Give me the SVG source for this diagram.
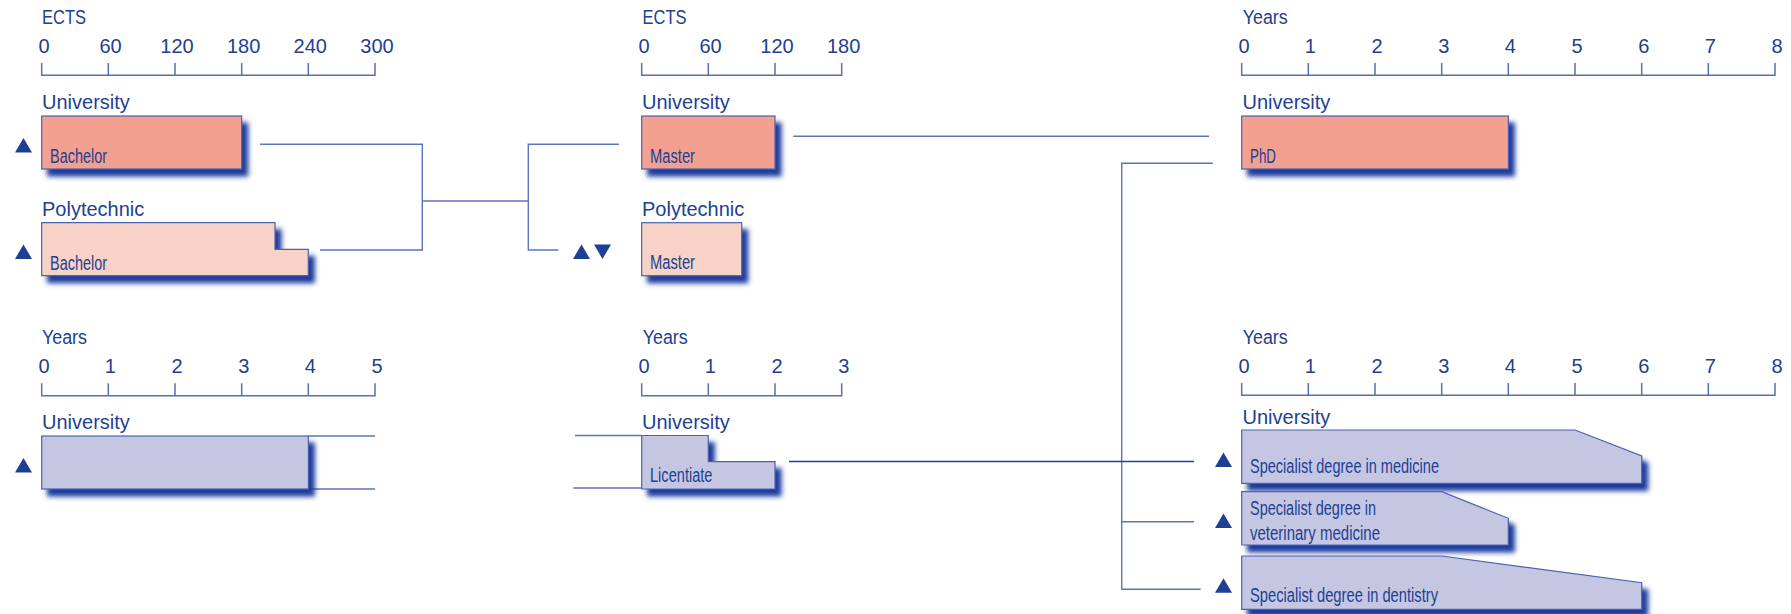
<svg xmlns="http://www.w3.org/2000/svg" width="1791" height="614" viewBox="0 0 1791 614">
<defs>
<style>
text{font-family:"Liberation Sans",Arial,sans-serif;fill:#213f93}
.h{font-size:20px}
.t{font-size:20px;text-anchor:middle}
.l{font-size:20px}
.ax{fill:none;stroke:#5670b5;stroke-width:1.5}
.box{stroke:#4a62b0;stroke-width:1.2;filter:url(#sh)}
.uni{fill:#f4a090}
.poly{fill:#f9d2c6}
.lic{fill:#c5c7e2}
.con{fill:none;stroke:#5a74bd;stroke-width:1.4}
.dark{fill:none;stroke:#22408f;stroke-width:1.4}
.tri{fill:#1f3f94}
</style>
<filter id="sh" x="-10%" y="-20%" width="125%" height="170%">
<feGaussianBlur in="SourceAlpha" stdDeviation="2.6"/>
<feOffset dx="6" dy="7" result="b"/>
<feFlood flood-color="#1d3c9c"/>
<feComposite in2="b" operator="in"/>
<feMerge><feMergeNode/><feMergeNode in="SourceGraphic"/></feMerge>
</filter>
<polygon id="up" points="0,14.5 8.5,0 17,14.5"/>
<polygon id="down" points="0,0 17,0 8.5,14.5"/>
</defs>
<rect width="1791" height="614" fill="#fff"/>

<!-- Axes -->
<g id="axis-ects-left">
<text class="h" x="42" y="24" textLength="44" lengthAdjust="spacingAndGlyphs">ECTS</text>
<path class="ax" d="M41.7,63V75.3H375V63M108.3,63V75.3M175,63V75.3M241.7,63V75.3M308.3,63V75.3"/>
<text class="t" x="44" y="53">0</text><text class="t" x="110.5" y="53">60</text><text class="t" x="177" y="53">120</text><text class="t" x="243.7" y="53">180</text><text class="t" x="310.3" y="53">240</text><text class="t" x="377" y="53">300</text>
</g>
<g id="axis-ects-mid">
<text class="h" x="642.5" y="24" textLength="44" lengthAdjust="spacingAndGlyphs">ECTS</text>
<path class="ax" d="M641.7,63V75.3H841.7V63M708.3,63V75.3M775,63V75.3"/>
<text class="t" x="644" y="53">0</text><text class="t" x="710.5" y="53">60</text><text class="t" x="777" y="53">120</text><text class="t" x="843.7" y="53">180</text>
</g>
<g id="axis-years-topright">
<text class="h" x="1242.7" y="24" textLength="45" lengthAdjust="spacingAndGlyphs">Years</text>
<path class="ax" d="M1241.7,63V75.3H1775V63M1308.3,63V75.3M1375,63V75.3M1441.7,63V75.3M1508.3,63V75.3M1575,63V75.3M1641.7,63V75.3M1708.3,63V75.3"/>
<text class="t" x="1244" y="53">0</text><text class="t" x="1310.3" y="53">1</text><text class="t" x="1377" y="53">2</text><text class="t" x="1443.7" y="53">3</text><text class="t" x="1510.3" y="53">4</text><text class="t" x="1577" y="53">5</text><text class="t" x="1643.7" y="53">6</text><text class="t" x="1710.3" y="53">7</text><text class="t" x="1777" y="53">8</text>
</g>
<g id="axis-years-botleft">
<text class="h" x="42" y="344" textLength="45" lengthAdjust="spacingAndGlyphs">Years</text>
<path class="ax" d="M41.7,383.3V395.7H375V383.3M108.3,383.3V395.7M175,383.3V395.7M241.7,383.3V395.7M308.3,383.3V395.7"/>
<text class="t" x="44" y="373.3">0</text><text class="t" x="110.3" y="373.3">1</text><text class="t" x="177" y="373.3">2</text><text class="t" x="243.7" y="373.3">3</text><text class="t" x="310.3" y="373.3">4</text><text class="t" x="377" y="373.3">5</text>
</g>
<g id="axis-years-botmid">
<text class="h" x="642.7" y="344" textLength="45" lengthAdjust="spacingAndGlyphs">Years</text>
<path class="ax" d="M641.7,383.3V395.7H841.7V383.3M708.3,383.3V395.7M775,383.3V395.7"/>
<text class="t" x="644" y="373.3">0</text><text class="t" x="710.3" y="373.3">1</text><text class="t" x="777" y="373.3">2</text><text class="t" x="843.7" y="373.3">3</text>
</g>
<g id="axis-years-botright">
<text class="h" x="1242.7" y="344" textLength="45" lengthAdjust="spacingAndGlyphs">Years</text>
<path class="ax" d="M1241.7,383V395.3H1775V383M1308.3,383V395.3M1375,383V395.3M1441.7,383V395.3M1508.3,383V395.3M1575,383V395.3M1641.7,383V395.3M1708.3,383V395.3"/>
<text class="t" x="1244" y="373.3">0</text><text class="t" x="1310.3" y="373.3">1</text><text class="t" x="1377" y="373.3">2</text><text class="t" x="1443.7" y="373.3">3</text><text class="t" x="1510.3" y="373.3">4</text><text class="t" x="1577" y="373.3">5</text><text class="t" x="1643.7" y="373.3">6</text><text class="t" x="1710.3" y="373.3">7</text><text class="t" x="1777" y="373.3">8</text>
</g>

<!-- Connectors -->
<g id="connectors">
<path class="con" d="M260,144.3H422.3V250H320"/>
<path class="con" d="M422.3,201H528.3"/>
<path class="con" d="M619,144.3H528.3V250H558.3"/>
<path class="con" d="M793.3,136.3H1209"/>
<path class="con" d="M1212.7,163.3H1121.7V589.3H1200.7"/>
<path class="con" d="M1121.7,521.7H1194"/>
<path class="dark" d="M789,461.5H1194"/>
<path class="con" d="M308.3,436H375M308.3,489H375"/>
<path class="con" d="M575,435.5H641.7M573.3,488H641.7"/>
</g>

<!-- Nodes -->
<g id="uni-bachelor">
<text class="h" x="42" y="109">University</text>
<use href="#up" class="tri" x="15" y="138"/>
<rect class="box uni" x="41.7" y="116" width="200" height="53"/>
<text class="l" x="50" y="163" textLength="57" lengthAdjust="spacingAndGlyphs">Bachelor</text>
</g>
<g id="poly-bachelor">
<text class="h" x="42" y="216">Polytechnic</text>
<use href="#up" class="tri" x="15" y="244.5"/>
<path class="box poly" d="M41.7,222.7H275V249.3H308.3V275.7H41.7Z"/>
<text class="l" x="50" y="269.5" textLength="57" lengthAdjust="spacingAndGlyphs">Bachelor</text>
</g>
<g id="uni-master">
<text class="h" x="642" y="109">University</text>
<rect class="box uni" x="641.7" y="116" width="133.3" height="53"/>
<text class="l" x="650" y="162.7" textLength="45" lengthAdjust="spacingAndGlyphs">Master</text>
</g>
<g id="poly-master">
<text class="h" x="642" y="216">Polytechnic</text>
<use href="#up" class="tri" x="573" y="244.5"/>
<use href="#down" class="tri" x="594" y="244.5"/>
<rect class="box poly" x="641.7" y="222.7" width="100" height="53"/>
<text class="l" x="650" y="269.3" textLength="45" lengthAdjust="spacingAndGlyphs">Master</text>
</g>
<g id="uni-phd">
<text class="h" x="1242.5" y="109">University</text>
<rect class="box uni" x="1241.7" y="116" width="266.7" height="53"/>
<text class="l" x="1250" y="162.7" textLength="26" lengthAdjust="spacingAndGlyphs">PhD</text>
</g>
<g id="uni-years-left">
<text class="h" x="42" y="428.5">University</text>
<use href="#up" class="tri" x="15" y="458"/>
<rect class="box lic" x="41.7" y="436" width="266.7" height="53"/>
</g>
<g id="uni-licentiate">
<text class="h" x="642" y="428.5">University</text>
<path class="box lic" d="M641.7,435.5H708.3V461.7H775V489H641.7Z"/>
<text class="l" x="650" y="481.7" textLength="62.5" lengthAdjust="spacingAndGlyphs">Licentiate</text>
</g>
<g id="spec-medicine">
<text class="h" x="1242.5" y="423.5">University</text>
<use href="#up" class="tri" x="1215" y="452.5"/>
<path class="box lic" d="M1241.7,430H1575L1641.7,456V483.3H1241.7Z"/>
<text class="l" x="1250" y="472.7" textLength="189" lengthAdjust="spacingAndGlyphs">Specialist degree in medicine</text>
</g>
<g id="spec-vet">
<use href="#up" class="tri" x="1215" y="513.5"/>
<path class="box lic" d="M1241.7,491.7H1441.7L1508.3,518.3V545H1241.7Z"/>
<text class="l" x="1250" y="515" textLength="126" lengthAdjust="spacingAndGlyphs">Specialist degree in</text>
<text class="l" x="1250" y="540" textLength="130" lengthAdjust="spacingAndGlyphs">veterinary medicine</text>
</g>
<g id="spec-dentistry">
<use href="#up" class="tri" x="1215" y="578.3"/>
<path class="box lic" d="M1241.7,556H1441.7L1641.7,582.7V609.3H1241.7Z"/>
<text class="l" x="1250" y="601.7" textLength="188" lengthAdjust="spacingAndGlyphs">Specialist degree in dentistry</text>
</g>
</svg>
